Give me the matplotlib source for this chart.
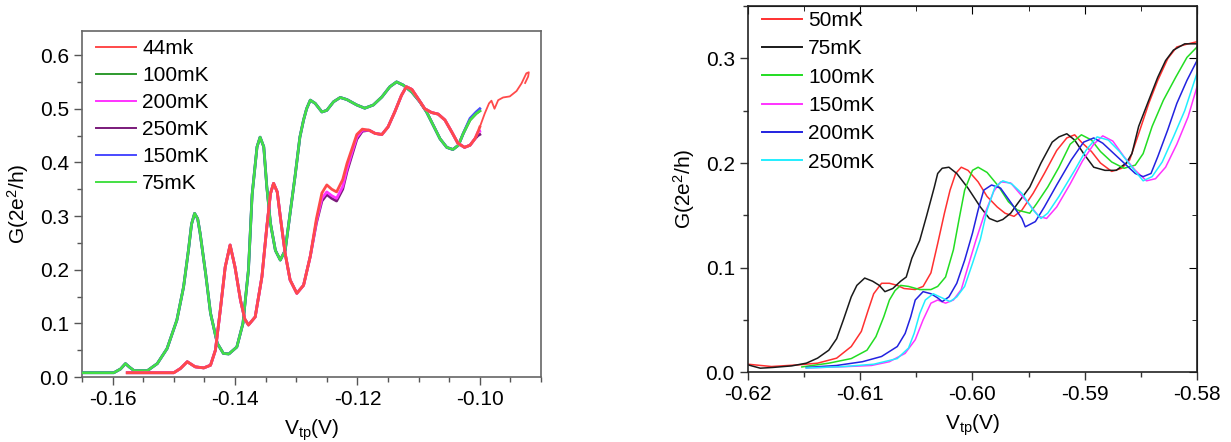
import numpy as np
import matplotlib
matplotlib.use("Agg")
import matplotlib.pyplot as plt
from matplotlib.ticker import MultipleLocator, FormatStrFormatter

plt.rcParams['font.family'] = ['Liberation Sans', 'DejaVu Sans']
plt.rcParams['mathtext.fontset'] = 'custom'
plt.rcParams['mathtext.rm'] = 'Liberation Sans'
plt.rcParams['mathtext.it'] = 'Liberation Sans'

# ---------------- left panel data ----------------
# 100mK / 150mK / 75mK traces lie on top of each other
green_x = [-0.165, -0.1598, -0.1587, -0.1579, -0.1572, -0.1565, -0.1543, -0.1527, -0.1511,
           -0.1495, -0.1484, -0.1476, -0.1471, -0.1466, -0.1461, -0.1457, -0.1448, -0.144,
           -0.1429, -0.1419, -0.141, -0.1397, -0.1387, -0.1378, -0.1372, -0.1364, -0.1359,
           -0.1353, -0.1348, -0.1342, -0.1334, -0.1326, -0.1318, -0.131, -0.1302, -0.1294,
           -0.1288, -0.1283, -0.1277, -0.1269, -0.1258, -0.125, -0.1239, -0.1228, -0.1217,
           -0.1201, -0.1188, -0.1174, -0.116, -0.1147, -0.1136, -0.1125, -0.1111, -0.1098,
           -0.1087, -0.1076, -0.1065, -0.1054, -0.1044, -0.1035, -0.1027, -0.1016, -0.1006,
           -0.1]
green_y = [0.008, 0.008, 0.015, 0.025, 0.018, 0.012, 0.012, 0.025, 0.053,
           0.106, 0.168, 0.237, 0.285, 0.305, 0.295, 0.268, 0.193, 0.119,
           0.063, 0.044, 0.043, 0.056, 0.1, 0.2, 0.34, 0.429, 0.447,
           0.429, 0.354, 0.286, 0.236, 0.218, 0.236, 0.305, 0.373, 0.447,
           0.479, 0.5, 0.516, 0.51, 0.494, 0.497, 0.513, 0.521, 0.517,
           0.507, 0.501, 0.507, 0.522, 0.541, 0.55, 0.544, 0.531, 0.513,
           0.494, 0.469, 0.444, 0.428, 0.424, 0.432, 0.454, 0.479, 0.491,
           0.496]
blue_y = green_y[:-3] + [0.482, 0.494, 0.5]

# 44mK / 200mK / 250mK traces
red_x = [-0.1576, -0.15, -0.1489, -0.1478, -0.1465, -0.1451, -0.144, -0.1432, -0.1424,
         -0.1416, -0.1408, -0.14, -0.1391, -0.1384, -0.1378, -0.1367, -0.1356, -0.1348,
         -0.1342, -0.1337, -0.1331, -0.1326, -0.1318, -0.131, -0.1299, -0.1288, -0.1277,
         -0.1267, -0.1258, -0.125, -0.1242, -0.1234, -0.1224, -0.1217, -0.1209, -0.1201,
         -0.1192, -0.1181, -0.1171, -0.116, -0.115, -0.1139, -0.1128, -0.112, -0.1111,
         -0.1101, -0.109, -0.1079, -0.1068, -0.1057, -0.1046, -0.1036, -0.1025, -0.1016,
         -0.1008, -0.1003, -0.1]
red_y = [0.008, 0.008, 0.016, 0.0285, 0.019, 0.017, 0.022, 0.05, 0.125,
         0.205, 0.246, 0.205, 0.143, 0.108, 0.097, 0.112, 0.187, 0.28,
         0.342, 0.361, 0.345, 0.299, 0.23, 0.181, 0.156, 0.171, 0.225,
         0.295, 0.343, 0.358, 0.35, 0.345, 0.368, 0.398, 0.425, 0.452,
         0.462, 0.46, 0.454, 0.452, 0.466, 0.494, 0.525, 0.541, 0.536,
         0.519, 0.5, 0.493, 0.49, 0.479, 0.457, 0.436, 0.428, 0.432,
         0.444, 0.457, 0.466]
magenta_y = (red_y[:27]
             + [0.29, 0.333, 0.345, 0.338, 0.333, 0.355, 0.388, 0.418, 0.447, 0.46, 0.46]
             + red_y[38:-1] + [0.458])
purple_y = (red_y[:27]
            + [0.287, 0.328, 0.34, 0.333, 0.328, 0.35, 0.383, 0.413, 0.443, 0.458, 0.46]
            + red_y[38:-2] + [0.45, 0.452])
# 44mK continues past -0.10
tail_x = [-0.1, -0.0992, -0.0985, -0.0981, -0.0976, -0.097, -0.0962, -0.0951, -0.094,
          -0.0932, -0.0924, -0.092, -0.0921, -0.0926]
tail_y = [0.466, 0.491, 0.51, 0.515, 0.5, 0.516, 0.521, 0.523, 0.533,
          0.547, 0.566, 0.568, 0.56, 0.548]

# ---------------- right panel data ----------------
k75_x = [-0.62, -0.6189, -0.6178, -0.6161, -0.6148, -0.6138, -0.6128, -0.6121, -0.6115, -0.6108,
         -0.6103, -0.6096, -0.6089, -0.6083, -0.6078, -0.6071, -0.6064, -0.6059, -0.6054,
         -0.6047, -0.6041, -0.6034, -0.6031, -0.6027, -0.6021, -0.6014, -0.6004, -0.5993,
         -0.5985, -0.5978, -0.5973, -0.5966, -0.596, -0.5949, -0.5939, -0.5929, -0.5923,
         -0.5916, -0.5909, -0.5901, -0.5892, -0.5882, -0.5872, -0.5863, -0.5858, -0.5852,
         -0.5843, -0.5835, -0.5828, -0.5821, -0.5811, -0.58]
k75_y = [0.007, 0.0038, 0.0045, 0.006, 0.0086, 0.0134, 0.021, 0.032, 0.05, 0.072,
         0.083, 0.09, 0.087, 0.083, 0.077, 0.08, 0.087, 0.091, 0.109,
         0.126, 0.149, 0.177, 0.19, 0.195, 0.196, 0.19, 0.176, 0.158,
         0.147, 0.144, 0.146, 0.152, 0.161, 0.177, 0.2, 0.22, 0.225,
         0.228, 0.222, 0.209, 0.196, 0.193, 0.193, 0.2, 0.209, 0.235,
         0.26, 0.282, 0.298, 0.308, 0.314, 0.314]

k50_x = [-0.62, -0.6179, -0.6155, -0.6138, -0.6121, -0.6108, -0.6099, -0.6093, -0.6088,
         -0.6081, -0.6074, -0.6067, -0.6061, -0.6051, -0.6044, -0.6037, -0.6031, -0.6025,
         -0.602, -0.6015, -0.601, -0.6004, -0.5995, -0.5987, -0.5978, -0.5971, -0.5963,
         -0.5956, -0.5946, -0.5936, -0.5925, -0.5916, -0.5909, -0.5903, -0.5894, -0.5886,
         -0.5876, -0.5867, -0.586, -0.5852, -0.5843, -0.5835, -0.5826, -0.5818, -0.5808, -0.58]
k50_y = [0.0076, 0.0054, 0.007, 0.0086, 0.0134, 0.0245, 0.039, 0.059, 0.075,
         0.085, 0.085, 0.083, 0.08, 0.079, 0.082, 0.095, 0.123, 0.152,
         0.174, 0.19, 0.196, 0.193, 0.182, 0.168, 0.158, 0.152, 0.149,
         0.155, 0.171, 0.19, 0.212, 0.224, 0.227, 0.22, 0.211, 0.2,
         0.192, 0.195, 0.203, 0.228, 0.257, 0.279, 0.3, 0.311, 0.314, 0.316]

k100_x = [-0.6152, -0.6128, -0.6108, -0.6094, -0.6086, -0.6079, -0.6074, -0.6069, -0.6064,
          -0.6057, -0.6047, -0.6037, -0.6031, -0.6024, -0.6017, -0.6012, -0.6007, -0.6,
          -0.5995, -0.5987, -0.5977, -0.5968, -0.596, -0.5949, -0.5943, -0.5933, -0.5923,
          -0.5913, -0.5903, -0.5894, -0.5886, -0.5876, -0.5865, -0.5855, -0.5848, -0.584,
          -0.583, -0.5819, -0.5809, -0.58]
k100_y = [0.005, 0.0086, 0.013, 0.021, 0.034, 0.053, 0.069, 0.078, 0.083,
          0.082, 0.079, 0.079, 0.082, 0.091, 0.117, 0.146, 0.174, 0.193,
          0.196, 0.191, 0.178, 0.163, 0.155, 0.152, 0.161, 0.177, 0.196,
          0.218, 0.227, 0.222, 0.211, 0.201, 0.195, 0.198, 0.209, 0.235,
          0.26, 0.282, 0.301, 0.311]

k150_x = [-0.6148, -0.6111, -0.609, -0.6074, -0.606, -0.6051, -0.6044, -0.6037, -0.6031,
          -0.6024, -0.6017, -0.601, -0.6004, -0.5997, -0.599, -0.5981, -0.5975, -0.5966,
          -0.5958, -0.5949, -0.5941, -0.5934, -0.5925, -0.5913, -0.5902, -0.5892, -0.5884,
          -0.5875, -0.5865, -0.5855, -0.5845, -0.5837, -0.5828, -0.5818, -0.5808, -0.58]
k150_y = [0.004, 0.0054, 0.0064, 0.01, 0.018, 0.031, 0.05, 0.066, 0.069,
          0.066, 0.069, 0.079, 0.101, 0.126, 0.149, 0.173, 0.182, 0.181,
          0.171, 0.16, 0.149, 0.147, 0.158, 0.18, 0.202, 0.218, 0.226,
          0.221, 0.206, 0.193, 0.183, 0.185, 0.196, 0.218, 0.244, 0.273]

k200_x = [-0.6148, -0.6121, -0.6098, -0.6081, -0.6067, -0.606, -0.6055, -0.6051, -0.6044,
          -0.6037, -0.6031, -0.6027, -0.6021, -0.6014, -0.6007, -0.6, -0.5995, -0.599,
          -0.5983, -0.5975, -0.5965, -0.5956, -0.5953, -0.5944, -0.5936, -0.5925, -0.5912,
          -0.5901, -0.5892, -0.5884, -0.5876, -0.5865, -0.5855, -0.5848, -0.5841, -0.5835,
          -0.5826, -0.5818, -0.5809, -0.58]
k200_y = [0.0045, 0.0064, 0.01, 0.015, 0.0245, 0.037, 0.053, 0.069, 0.077,
          0.075, 0.071, 0.0675, 0.072, 0.085, 0.107, 0.133, 0.155, 0.174,
          0.179, 0.176, 0.161, 0.147, 0.139, 0.144, 0.158, 0.179, 0.203,
          0.22, 0.224, 0.219, 0.211, 0.2, 0.19, 0.187, 0.19, 0.206,
          0.232, 0.257, 0.279, 0.298]

k250_x = [-0.6148, -0.6114, -0.6088, -0.6067, -0.6057, -0.6052, -0.6047, -0.6042, -0.6035,
          -0.6027, -0.602, -0.6014, -0.6007, -0.6, -0.5993, -0.5987, -0.598, -0.5973,
          -0.5965, -0.5956, -0.5946, -0.5939, -0.5933, -0.5923, -0.5909, -0.5899, -0.5889,
          -0.5879, -0.5869, -0.5858, -0.5848, -0.584, -0.5831, -0.5821, -0.5811, -0.58]
k250_y = [0.004, 0.0054, 0.0076, 0.013, 0.023, 0.037, 0.056, 0.069, 0.075,
          0.071, 0.0675, 0.072, 0.082, 0.104, 0.127, 0.155, 0.177, 0.183,
          0.18, 0.171, 0.155, 0.147, 0.152, 0.168, 0.193, 0.212, 0.225,
          0.222, 0.211, 0.196, 0.183, 0.187, 0.201, 0.225, 0.25, 0.286]

fig = plt.figure(figsize=(12.31, 4.42), dpi=100)
axL = fig.add_axes([0.0666, 0.147, 0.3729, 0.783])
axR = fig.add_axes([0.6076, 0.158, 0.3648, 0.828])

FS = 15

# left panel
axL.plot(red_x, red_y, color='#ff4a4a', lw=2.0, label='44mk', zorder=6)
axL.plot(tail_x, tail_y, color='#ff4a4a', lw=1.3, zorder=6)
axL.plot(green_x, green_y, color='#2e9a2e', lw=2.0, label='100mK', zorder=3)
axL.plot(red_x, magenta_y, color='#ff33ff', lw=2.0, label='200mK', zorder=5)
axL.plot(red_x, purple_y, color='#7a1a7a', lw=2.0, label='250mK', zorder=4)
axL.plot(green_x, blue_y, color='#4a4aff', lw=2.0, label='150mK', zorder=3)
axL.plot(green_x, green_y, color='#44e044', lw=1.8, label='75mK', zorder=4)

axL.set_xlim(-0.165, -0.090)
axL.set_ylim(0, 0.645)
axL.xaxis.set_major_locator(MultipleLocator(0.02))
axL.xaxis.set_minor_locator(MultipleLocator(0.005))
axL.yaxis.set_major_locator(MultipleLocator(0.1))
axL.yaxis.set_minor_locator(MultipleLocator(0.05))
axL.xaxis.set_major_formatter(FormatStrFormatter('%.2f'))
axL.yaxis.set_major_formatter(FormatStrFormatter('%.1f'))
axL.tick_params(which='both', direction='out', top=False, right=False,
                labelsize=FS, color='#555555')
axL.tick_params(which='major', length=6, width=1)
axL.tick_params(which='minor', length=3.5, width=1)
for s in axL.spines.values():
    s.set_color('#666666')
    s.set_linewidth(1.2)
axL.set_xlabel('V$_{tp}$(V)', fontsize=FS, labelpad=6)
axL.set_ylabel('G(2e$^2$/h)', fontsize=FS, labelpad=6)
legL = axL.legend(loc='upper left', bbox_to_anchor=(0.013, 1.0), frameon=False, fontsize=FS,
                  handlelength=1.9, handletextpad=0.3, labelspacing=0.38, borderaxespad=0)
for h in legL.get_lines():
    h.set_linewidth(1.4)

# right panel
axR.plot(k50_x, k50_y, color='#ff3030', lw=1.1, label='50mK')
axR.plot(k75_x, k75_y, color='#1a1a1a', lw=1.1, label='75mK')
axR.plot(k100_x, k100_y, color='#22dd22', lw=1.1, label='100mK')
axR.plot(k150_x, k150_y, color='#ff33ff', lw=1.1, label='150mK')
axR.plot(k200_x, k200_y, color='#2222e0', lw=1.1, label='200mK')
axR.plot(k250_x, k250_y, color='#22eeff', lw=1.1, label='250mK')

axR.set_xlim(-0.62, -0.58)
axR.set_ylim(0, 0.35)
axR.xaxis.set_major_locator(MultipleLocator(0.01))
axR.xaxis.set_minor_locator(MultipleLocator(0.005))
axR.yaxis.set_major_locator(MultipleLocator(0.1))
axR.yaxis.set_minor_locator(MultipleLocator(0.05))
axR.xaxis.set_major_formatter(FormatStrFormatter('%.2f'))
axR.yaxis.set_major_formatter(FormatStrFormatter('%.1f'))
axR.tick_params(which='both', direction='out', labelsize=FS, color='#333333')
axR.tick_params(which='major', length=6, width=1)
axR.tick_params(which='minor', length=3.5, width=1)
sx = axR.secondary_xaxis('top')
sx.xaxis.set_major_locator(MultipleLocator(0.01))
sx.xaxis.set_minor_locator(MultipleLocator(0.005))
sx.tick_params(which='major', direction='in', length=6, labeltop=False)
sx.tick_params(which='minor', direction='in', length=3.5)
sy = axR.secondary_yaxis('right')
sy.yaxis.set_major_locator(MultipleLocator(0.1))
sy.yaxis.set_minor_locator(MultipleLocator(0.05))
sy.tick_params(which='major', direction='in', length=6, labelright=False)
sy.tick_params(which='minor', direction='in', length=3.5)
for s in axR.spines.values():
    s.set_color('#222222')
    s.set_linewidth(1.2)
axR.set_xlabel('V$_{tp}$(V)', fontsize=FS, labelpad=6)
axR.set_ylabel('G(2e$^2$/h)', fontsize=FS, labelpad=6)
legR = axR.legend(loc='upper left', bbox_to_anchor=(0.013, 1.01), frameon=False, fontsize=FS,
                  handlelength=1.9, handletextpad=0.3, labelspacing=0.45, borderaxespad=0)
for h in legR.get_lines():
    h.set_linewidth(1.4)

fig.savefig('out.png', dpi=100)
